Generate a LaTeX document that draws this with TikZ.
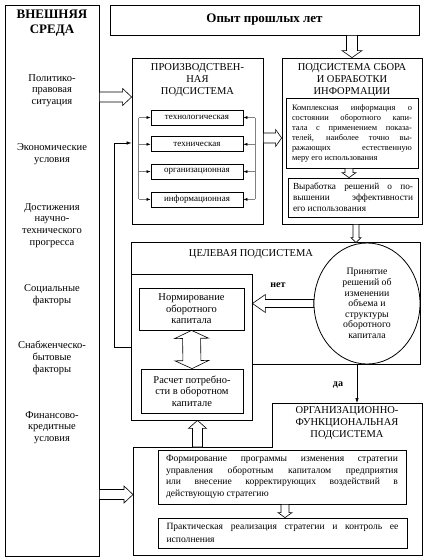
\documentclass[tikz,border=0pt]{standalone}
\usepackage{fontspec}
\setmainfont{Liberation Serif}
\usetikzlibrary{positioning, shapes.geometric, arrows.meta, calc}

\begin{document}
\begin{tikzpicture}[
  x=1pt, y=-1pt,
  sysbox/.style 2 args={rectangle, draw, line width=0.8pt, inner sep=0pt, minimum width=#1, minimum height=#2},
  heading/.style={align=center, font=\fontsize{10.5}{12}\selectfont},
  factor/.style={align=center, font=\fontsize{10.5}{11.8}\selectfont},
  para/.style={text width=#1, align=justify},
  arrow/.style={-{Latex[length=5pt, width=3.5pt]}, line width=0.6pt},
  garrow/.style={draw=gray, -{Latex[length=4pt, width=3pt, color=black]}, line width=0.5pt},
  hollow/.style={draw, line width=0.6pt, fill=white},
  fat/.style n args={3}{hollow, to path={
    let \p1=(\tikztostart), \p2=(\tikztotarget),
        \n1={veclen(\x2-\x1,\y2-\y1)},
        \n2={(\x2-\x1)/\n1}, \n3={(\y2-\y1)/\n1}
    in ({\x1-(\n3)*#1}, {\y1+(\n2)*#1})
    -- ({\x2-(\n2)*#3-(\n3)*#1}, {\y2-(\n3)*#3+(\n2)*#1})
    -- ({\x2-(\n2)*#3-(\n3)*#2}, {\y2-(\n3)*#3+(\n2)*#2})
    -- (\tikztotarget)
    -- ({\x2-(\n2)*#3+(\n3)*#2}, {\y2-(\n3)*#3-(\n2)*#2})
    -- ({\x2-(\n2)*#3+(\n3)*#1}, {\y2-(\n3)*#3-(\n2)*#1})
    -- ({\x1+(\n3)*#1}, {\y1-(\n2)*#1})
    -- cycle}},
  fatboth/.style n args={3}{hollow, to path={
    let \p1=(\tikztostart), \p2=(\tikztotarget),
        \n1={veclen(\x2-\x1,\y2-\y1)},
        \n2={(\x2-\x1)/\n1}, \n3={(\y2-\y1)/\n1}
    in (\tikztostart)
    -- ({\x1+(\n2)*#3-(\n3)*#2}, {\y1+(\n3)*#3+(\n2)*#2})
    -- ({\x1+(\n2)*#3-(\n3)*#1}, {\y1+(\n3)*#3+(\n2)*#1})
    -- ({\x2-(\n2)*#3-(\n3)*#1}, {\y2-(\n3)*#3+(\n2)*#1})
    -- ({\x2-(\n2)*#3-(\n3)*#2}, {\y2-(\n3)*#3+(\n2)*#2})
    -- (\tikztotarget)
    -- ({\x2-(\n2)*#3+(\n3)*#2}, {\y2-(\n3)*#3-(\n2)*#2})
    -- ({\x2-(\n2)*#3+(\n3)*#1}, {\y2-(\n3)*#3-(\n2)*#1})
    -- ({\x1+(\n2)*#3+(\n3)*#1}, {\y1+(\n3)*#3-(\n2)*#1})
    -- ({\x1+(\n2)*#3+(\n3)*#2}, {\y1+(\n3)*#3-(\n2)*#2})
    -- cycle}}
]

\useasboundingbox (0,0) rectangle (429,560);

% ---------- External environment ----------
\node[sysbox={94pt}{551pt}] (ext) at (52,280.5) {};
\node[align=center, font=\fontsize{13}{15}\selectfont\bfseries] (extT) at (52,23.5) {ВНЕШНЯЯ\\СРЕДА};
\node[factor] (f1) at (52,90.5) {Политико-\\правовая\\ситуация};
\node[factor] (f2) at (52,154.5) {Экономические\\условия};
\node[factor] (f3) at (52,225.5) {Достижения\\научно-\\технического\\прогресса};
\node[factor] (f4) at (52,295) {Социальные\\факторы};
\node[factor] (f5) at (52,358) {Снабженческо-\\бытовые\\факторы};
\node[factor] (f6) at (52,427.5) {Финансово-\\кредитные\\условия};

% ---------- Past experience ----------
\node[sysbox={309pt}{30pt}, font=\fontsize{13}{15}\selectfont\bfseries] (past) at (264.5,20) {Опыт прошлых лет};

% ---------- Production subsystem ----------
\node[sysbox={131pt}{166pt}] (prod) at (197.5,141) {};
\node[heading] (prodT) at (197.5,80) {ПРОИЗВОДСТВЕН-\\НАЯ\\ПОДСИСТЕМА};
\node[sysbox={92pt}{15pt}, font=\fontsize{9}{10}\selectfont] (t1) at (197,117.5) {технологическая};
\node[sysbox={92pt}{15pt}, font=\fontsize{9}{10}\selectfont, below=11pt of t1] (t2) {техническая};
\node[sysbox={92pt}{15pt}, font=\fontsize{9}{10}\selectfont, below=11.5pt of t2] (t3) {организационная};
\node[sysbox={92pt}{15pt}, font=\fontsize{9}{10}\selectfont, below=12pt of t3] (t4) {информационная};
\coordinate (lbar) at ([xshift=-12pt]t1.west);
\coordinate (rbar) at ([xshift=12pt]t1.east);
\draw[gray, line width=0.5pt] (lbar) -- (lbar |- t4);
\draw[gray, line width=0.5pt] (rbar) -- (rbar |- t4);
\foreach \t in {t1,t2,t3,t4}{
  \draw[garrow] (lbar |- \t) -- (\t.west);
  \draw[garrow] (rbar |- \t) -- (\t.east);
}

% ---------- Information subsystem ----------
\node[sysbox={140pt}{166pt}] (info) at (352,141) {};
\node[heading] (infoT) at (352,80) {ПОДСИСТЕМА СБОРА\\И ОБРАБОТКИ\\ИНФОРМАЦИИ};
\node[sysbox={132pt}{70pt}, para=120pt, font=\fontsize{8.4}{10}\selectfont] (infoA) at (352,133)
  {Комплексная информация о\linebreak состоянии оборотного капи-\linebreak тала с применением показа-\linebreak телей, наиболее точно вы-\linebreak ражающих естественную\linebreak меру его использования};
\node[sysbox={130pt}{39pt}, para=120pt, font=\fontsize{9.3}{11}\selectfont] (infoB) at (353,197.5)
  {Выработка решений о по-\linebreak вышении эффективности\linebreak его использования};

% ---------- Target subsystem ----------
\node[sysbox={289pt}{122pt}] (target) at (275.5,303) {};
\node[heading] (targetT) at (251,254) {ЦЕЛЕВАЯ ПОДСИСТЕМА};
\node[sysbox={121pt}{146pt}, fill=white] (panel) at (191.5,347) {};
\node[sysbox={105pt}{42pt}, factor, font=\fontsize{10.5}{11.5}\selectfont] (norm) at (191.5,309) {Нормирование\\оборотного\\капитала};
\node[sysbox={102pt}{44pt}, factor, font=\fontsize{10.5}{11.5}\selectfont] (calc) at (192,391) {Расчет потребно-\\сти в оборотном\\капитале};
\node[ellipse, draw, line width=0.8pt, inner sep=0pt, minimum width=106pt, minimum height=121pt,
  align=center, font=\fontsize{9.8}{10.6}\selectfont] (ell) at (367,303.5)
  {Принятие\\решений об\\изменении\\объема и\\структуры\\оборотного\\капитала};
\node[font=\fontsize{10}{11}\selectfont\bfseries] (no) at (278,285) {нет};

% ---------- Organizational subsystem ----------
\coordinate (o1) at (133,447);
\coordinate (o2) at (272,447);
\coordinate (o3) at (272,403);
\coordinate (o4) at (422,403);
\coordinate (o5) at (422,555);
\coordinate (o6) at (133,555);
\draw[line width=0.8pt] (o1) -- (o2) -- (o3) -- (o4) -- (o5) -- (o6) -- cycle;
\node[heading] (orgT) at (347,423.5) {ОРГАНИЗАЦИОННО-\\ФУНКЦИОНАЛЬНАЯ\\ПОДСИСТЕМА};
\node[sysbox={248pt}{54pt}, para=232pt, font=\fontsize{9.6}{11.5}\selectfont] (orgA) at (282,477)
  {Формирование программы изменения стратегии\linebreak управления оборотным капиталом предприятия\linebreak или внесение корректирующих воздействий в\linebreak действующую стратегию};
\node[sysbox={249pt}{30pt}, para=232pt, font=\fontsize{9.6}{13}\selectfont] (orgB) at (282.5,533)
  {Практическая реализация стратегии и контроль ее\linebreak исполнения};
\node[font=\fontsize{10}{11}\selectfont\bfseries] (yes) at (338,385) {да};

% ---------- Arrows ----------
\coordinate (in1) at ([yshift=44pt]prod.west);
\coordinate (in2) at ($(o1)!0.44!(o6)$);
\draw[fat={5pt}{8.5pt}{9pt}] (ext.east |- in1) to (in1);
\draw[fat={5pt}{8.5pt}{9pt}] (ext.east |- in2) to (in2);
\draw[fat={5pt}{8.5pt}{6pt}] ([yshift=3pt]prod.east) to ([yshift=3pt]info.west);
\draw[fat={5.5pt}{10pt}{7pt}] (past.south -| info.north) to (info.north);
\draw[fat={4pt}{7pt}{5pt}] ([xshift=-3pt]infoA.south) to ([xshift=-3pt]infoA.south |- infoB.north);
\draw[fat={3pt}{5pt}{5pt}] ([xshift=4pt]info.south) to ([xshift=4pt]info.south |- ell.north);
\draw[fat={4pt}{9pt}{13pt}] (ell.west) to (ell.west -| panel.east);
\draw[fatboth={9pt}{17pt}{8pt}] (norm.south) to (calc.north);
\draw[fat={5pt}{9pt}{8pt}] ([xshift=6pt]panel.south |- o1) to ([xshift=6pt]panel.south);
\draw[fat={4pt}{7pt}{5pt}] ([xshift=3pt]orgA.south) to ([xshift=3pt]orgA.south |- orgB.north);
\draw[arrow] (panel.west) -- ++(-16,0) |- ([yshift=-2pt]prod.west);
\draw[arrow] ([xshift=-10pt]ell.south) -- ([xshift=-10pt]ell.south |- o4);

\end{tikzpicture}
\end{document}
